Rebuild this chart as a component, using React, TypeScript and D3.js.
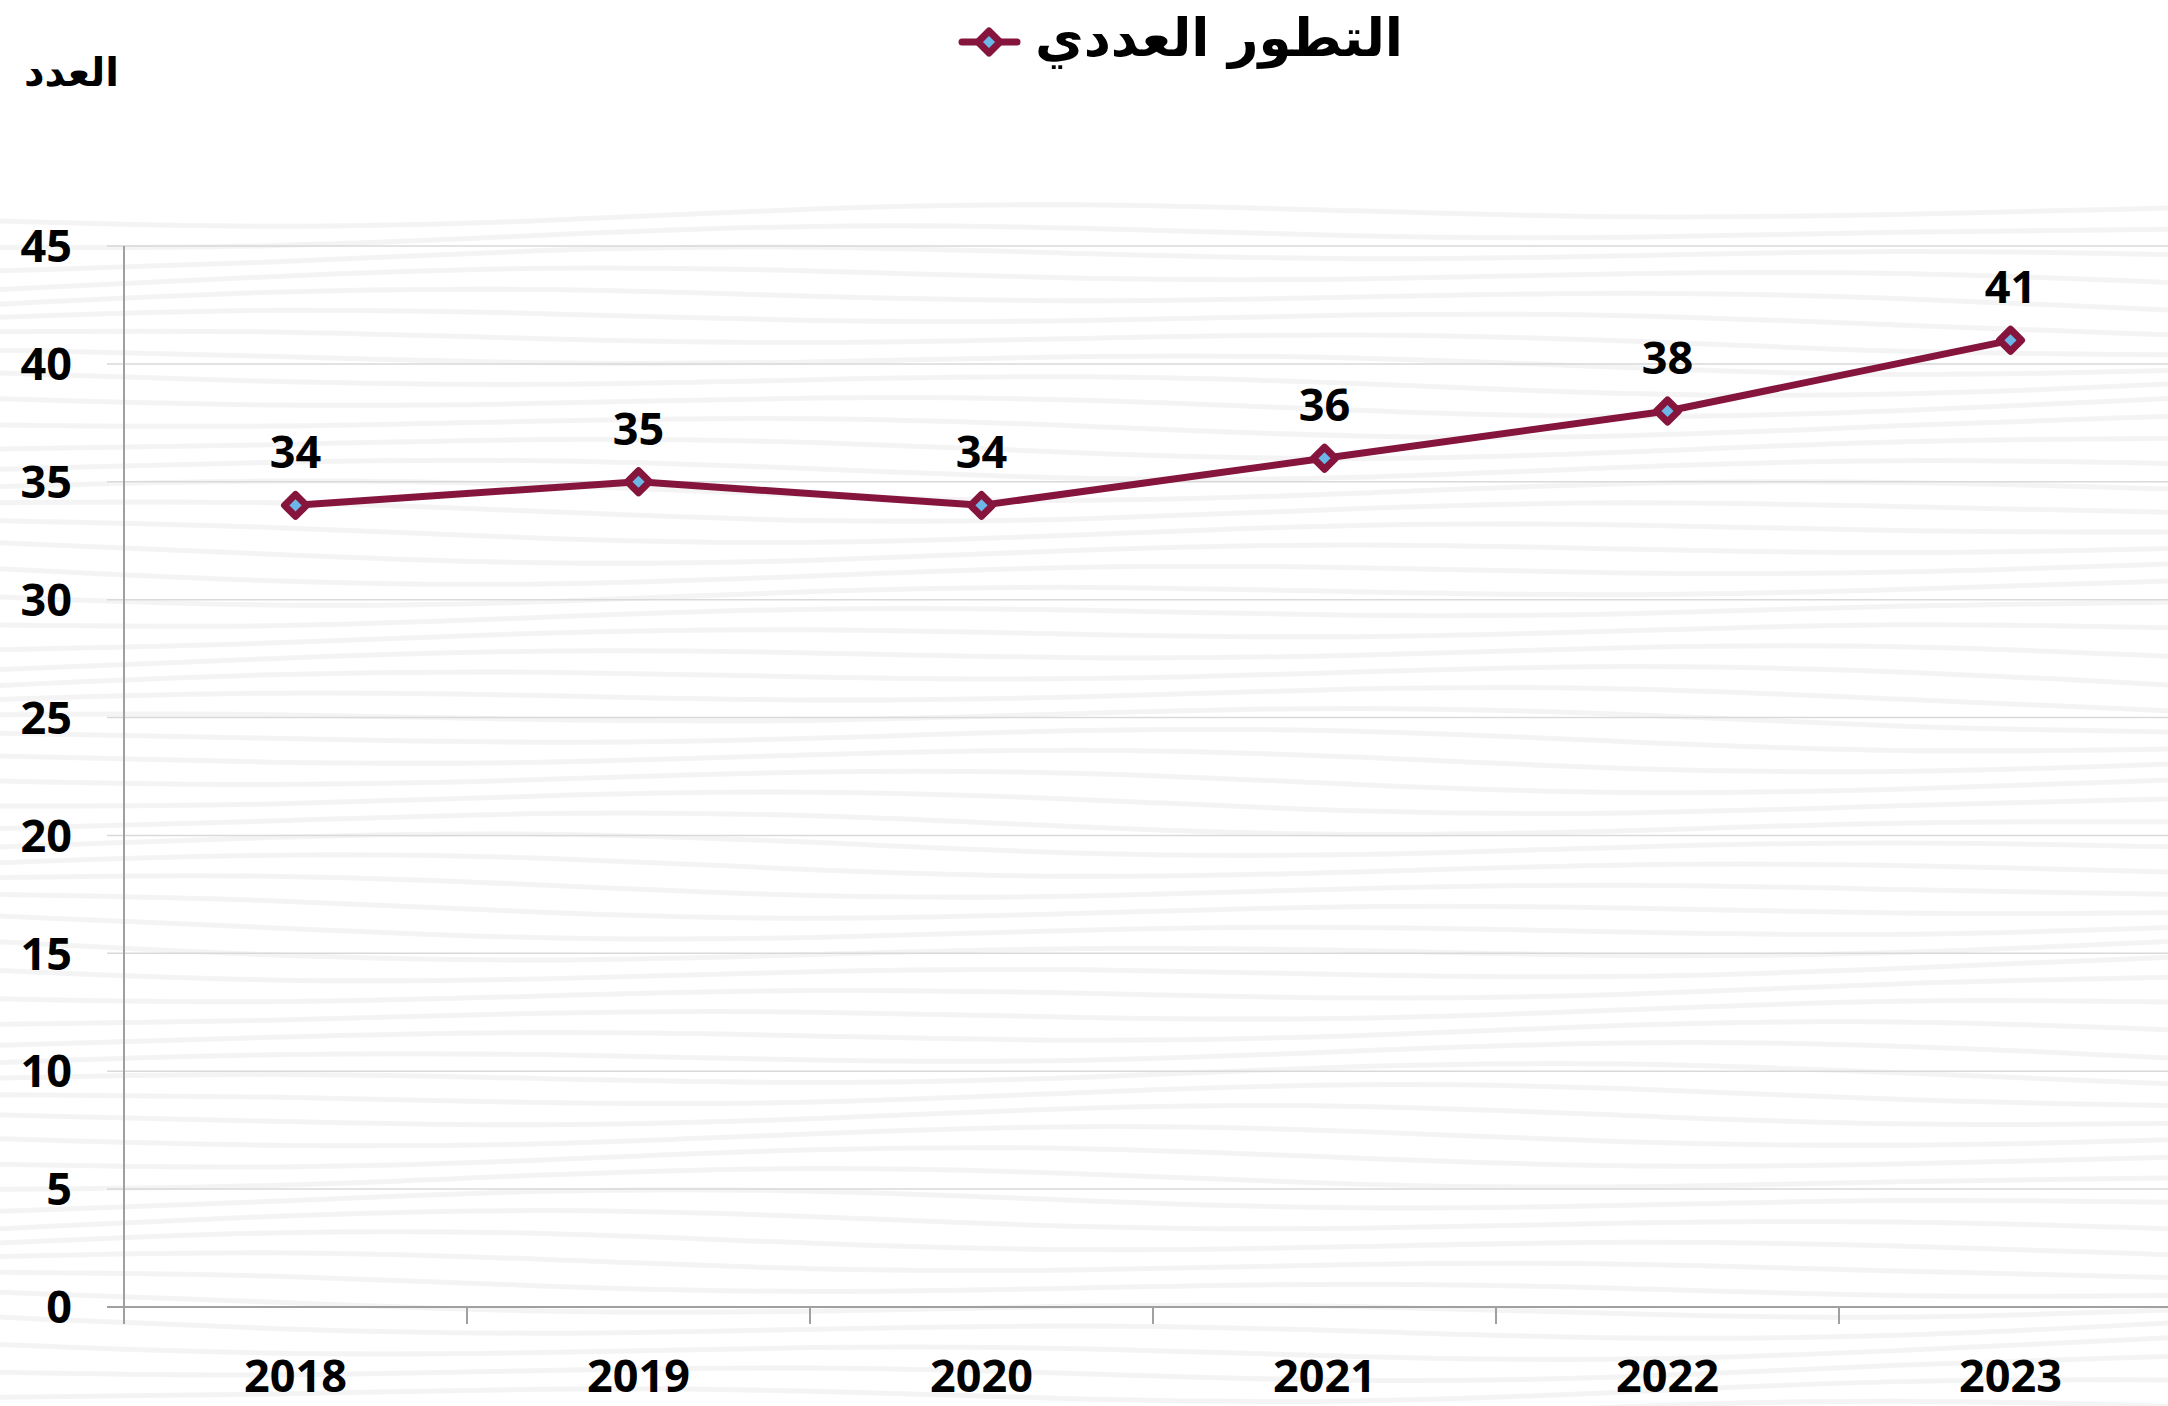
import React, { useEffect } from "react";
import * as d3 from "d3";

const years = ["2018", "2019", "2020", "2021", "2022", "2023"];
const values = [34, 35, 34, 36, 38, 41];
const yTicks = [0, 5, 10, 15, 20, 25, 30, 35, 40, 45];
const title = "التطور العددي";
const yLabel = "العدد";

const W = 2168;
const H = 1406;
const M = { left: 124, right: -14, top: 246, bottom: 99 };
const maroon = "#86153D";
const blue = "#6DB6E8";
const font = "'Open Sans', 'DejaVu Sans', sans-serif";
const arFont = "'DejaVu Sans', sans-serif";

function Marker({ x, y, r }: { x: number; y: number; r: number }) {
  const p = `M${x},${y - r}L${x + r},${y}L${x},${y + r}L${x - r},${y}Z`;
  return <path d={p} fill={blue} stroke={maroon} strokeWidth={7} strokeLinejoin="round" />;
}

export default function App() {
  useEffect(() => {
    document.body.style.margin = "0";
  }, []);

  const x = d3.scaleBand<string>().domain(years).range([M.left, W - M.right]);
  const y = d3.scaleLinear().domain([0, 45]).range([H - M.bottom, M.top]);
  const line = d3
    .line<number>()
    .x((_, i) => (x(years[i]) as number) + x.bandwidth() / 2)
    .y((d) => y(d));

  // decorative wavy background texture
  const waves: string[] = [];
  const waveLine = d3.line<[number, number]>().curve(d3.curveBasis);
  for (let k = 0; k < 58; k++) {
    const base = 215 + k * 21;
    const pts: [number, number][] = [];
    for (let j = 0; j <= 8; j++) {
      const px = (j / 8) * W;
      const py = base + Math.sin(j * 1.3 + k * 0.7) * 9 + Math.cos(j * 0.6 + k * 0.3) * 6;
      pts.push([px, py]);
    }
    waves.push(waveLine(pts) as string);
  }

  const x0 = M.left;
  const x1 = W;
  const yBase = y(0);

  return (
    <svg width={W} height={H} style={{ display: "block", background: "#fff" }}>
      <g>
        {waves.map((d, i) => (
          <path key={i} d={d} fill="none" stroke="#f4f4f4" strokeWidth={5} />
        ))}
      </g>
      {/* gridlines */}
      {yTicks.map((t) => (
        <line key={t} x1={x0 - 17} x2={x1} y1={y(t)} y2={y(t)} stroke={t === 0 ? "#a0a0a0" : "#d9d9d9"} strokeWidth={t === 0 ? 2 : 1.5} />
      ))}
      {/* y axis */}
      <line x1={x0} x2={x0} y1={y(45)} y2={yBase + 17} stroke="#a0a0a0" strokeWidth={2} />
      {years.slice(1).map((yr) => (
        <line key={yr} x1={x(yr) as number} x2={x(yr) as number} y1={yBase} y2={yBase + 17} stroke="#a0a0a0" strokeWidth={2} />
      ))}
      {/* y tick labels */}
      {yTicks.map((t) => (
        <text key={t} x={72} y={y(t)} dy="0.36em" textAnchor="end" fontFamily={font} fontWeight={700} fontSize={45} fill="#000">
          {t}
        </text>
      ))}
      {/* x labels */}
      {years.map((yr) => (
        <text key={yr} x={(x(yr) as number) + x.bandwidth() / 2} y={1392} textAnchor="middle" fontFamily={font} fontWeight={700} fontSize={45} fill="#000">
          {yr}
        </text>
      ))}
      {/* line */}
      <path d={line(values) as string} fill="none" stroke={maroon} strokeWidth={7} strokeLinejoin="round" />
      {values.map((v, i) => {
        const cx = (x(years[i]) as number) + x.bandwidth() / 2;
        return (
          <g key={i}>
            <Marker x={cx} y={y(v)} r={11} />
            <text x={cx} y={y(v) - 37} textAnchor="middle" fontFamily={font} fontWeight={700} fontSize={45} fill="#000">
              {v}
            </text>
          </g>
        );
      })}
      {/* legend/title */}
      <line x1={962} x2={1017} y1={42} y2={42} stroke={maroon} strokeWidth={7} strokeLinecap="round" />
      <Marker x={989} y={42} r={11} />
      <text x={1403} y={56} textAnchor="end" fontFamily={arFont} fontWeight={700} fontSize={53} fill="#000">
        {title}
      </text>
      {/* y axis label */}
      <text x={119} y={86} textAnchor="end" fontFamily={arFont} fontWeight={700} fontSize={40} fill="#000">
        {yLabel}
      </text>
    </svg>
  );
}
